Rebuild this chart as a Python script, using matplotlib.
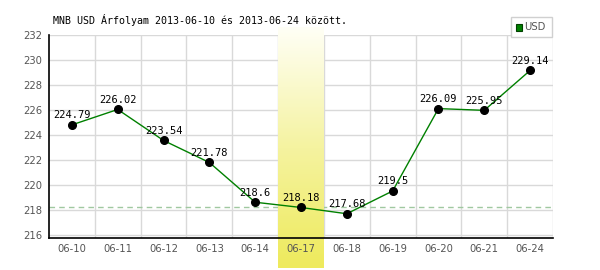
import matplotlib
matplotlib.use("Agg")
import matplotlib.pyplot as plt
import numpy as np
from matplotlib.colors import LinearSegmentedColormap
from matplotlib.patches import Rectangle

dates = ["06-10", "06-11", "06-12", "06-13", "06-14", "06-17",
         "06-18", "06-19", "06-20", "06-21", "06-24"]
values = [224.79, 226.02, 223.54, 221.78, 218.6, 218.18,
          217.68, 219.5, 226.09, 225.95, 229.14]
value_labels = ["224.79", "226.02", "223.54", "221.78", "218.6", "218.18",
                "217.68", "219.5", "226.09", "225.95", "229.14"]
yticks = [216, 218, 220, 222, 224, 226, 228, 230, 232]
highlight_index = 5
title = "MNB USD Árfolyam 2013-06-10 és 2013-06-24 között."
series_name = "USD"

W, H = 600, 270
fig = plt.figure(figsize=(W / 100, H / 100), dpi=100)
ax_left, ax_right, ax_top, ax_bottom = 49, 553, 34.7, 238
ax = fig.add_axes([ax_left / W, 1 - ax_bottom / H,
                   (ax_right - ax_left) / W, (ax_bottom - ax_top) / H])

ymin, ymax = 215.74, 232
ax.set_xlim(-0.5, len(dates) - 0.5)
ax.set_ylim(ymin, ymax)
ppu = (ax_bottom - ax_top) / (ymax - ymin)

x = np.arange(len(dates))

# grid
grid_c = "#d9d9d9"
for yv in yticks:
    ax.axhline(yv, color=grid_c, lw=1, zorder=0.5)
for b in np.arange(0.5, len(dates) - 0.5, 1):
    ax.axvline(b, color=grid_c, lw=1, zorder=0.5)
ax.axvline(len(dates) - 0.5, color=grid_c, lw=1, zorder=0.5)

# dashed reference line at highlighted value
ax.axhline(values[highlight_index], color="#a0c8a0", lw=1, ls=(0, (4, 3)), zorder=0.8)

# highlight band gradient
band_top = ymax + (ax_top - 27) / ppu
band_bot = ymin - (268 - ax_bottom) / ppu
cmap = LinearSegmentedColormap.from_list("band", ["#fffff6", "#f5f3a0", "#eeea5c"])
grad = np.linspace(0, 1, 256).reshape(-1, 1)
ax.imshow(grad, cmap=cmap, aspect="auto",
          extent=[highlight_index - 0.5, highlight_index + 0.5, band_bot, band_top],
          origin="upper", zorder=1, clip_on=False)
ax.set_xlim(-0.5, len(dates) - 0.5)
ax.set_ylim(ymin, ymax)

# line and markers
ax.plot(x, values, color="#008000", lw=1, zorder=3)
ax.plot(x, values, "o", color="black", ms=5.5, zorder=4)

for xi, v, lab in zip(x, values, value_labels):
    ax.annotate(lab, (xi, v), xytext=(0, 4.8), textcoords="offset points",
                ha="center", va="baseline", fontsize=7.5, family="DejaVu Sans Mono",
                color="black", zorder=5)

# spines
for s in ["top", "right"]:
    ax.spines[s].set_visible(False)
ax.spines["left"].set_color("black")
ax.spines["bottom"].set_color("black")
ax.spines["left"].set_linewidth(1.2)
ax.spines["bottom"].set_linewidth(1.2)
ax.spines["left"].set_zorder(6)
ax.spines["bottom"].set_zorder(6)

ax.set_yticks(yticks)
ax.set_yticklabels([str(t) for t in yticks])
ax.set_xticks(x)
ax.set_xticklabels(dates)
ax.tick_params(axis="both", length=0, labelsize=7.2, labelcolor="#555555")
ax.tick_params(axis="x", pad=4.5)
ax.tick_params(axis="y", pad=5)
for t in ax.get_xticklabels() + ax.get_yticklabels():
    t.set_family("DejaVu Sans")

# title
fig.text(53 / W, 1 - 24.5 / H, title, ha="left", va="baseline", fontsize=7.2,
         family="DejaVu Sans Mono", color="black")

# legend box
lx0, lx1, ly0, ly1 = 511, 552, 17, 37
fig.patches.append(Rectangle((lx0 / W, 1 - ly1 / H), (lx1 - lx0) / W, (ly1 - ly0) / H,
                             transform=fig.transFigure, facecolor="white",
                             edgecolor="#d0d0d0", lw=1))
fig.patches.append(Rectangle((516 / W, 1 - 30.5 / H), 6 / W, 6 / H,
                             transform=fig.transFigure, facecolor="#008000",
                             edgecolor="#004000", lw=0.8))
fig.text(524 / W, 1 - 27.5 / H, series_name, ha="left", va="center", fontsize=7.2,
         color="#555555")

fig.savefig("out.png", dpi=100)
